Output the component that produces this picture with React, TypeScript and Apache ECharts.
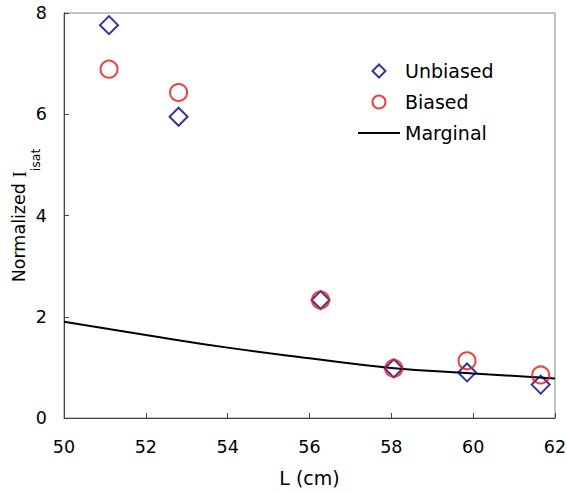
import React, { useEffect, useRef } from "react";
import * as echarts from "echarts";

const unbiasedL = [51.1, 52.8, 56.27, 58.06, 59.85, 61.65];
const unbiasedI = [7.76, 5.95, 2.33, 0.98, 0.9, 0.66];
const biasedL = [51.1, 52.8, 56.27, 58.06, 59.85, 61.65];
const biasedI = [6.89, 6.43, 2.33, 0.98, 1.13, 0.85];
const marginalL = [50, 52, 54, 56, 58, 60, 62];
const marginalI = [1.9, 1.64, 1.39, 1.18, 0.99, 0.88, 0.78];

const FONT = "DejaVu Sans";

export default function App() {
  const ref = useRef<HTMLDivElement>(null);
  useEffect(() => {
    if (!ref.current) return;
    const chart = echarts.init(ref.current, undefined, { renderer: "svg" });
    chart.setOption({
      animation: false,
      backgroundColor: "#fff",
      grid: {
        left: 64,
        top: 13,
        right: 12,
        bottom: 75,
        outerBoundsMode: "none",
        containLabel: false,
        show: true,
        borderColor: "#888",
        borderWidth: 1,
        backgroundColor: "transparent",
      },
      legend: {
        orient: "vertical",
        left: 353,
        top: 56,
        itemWidth: 42,
        itemHeight: 13,
        itemGap: 11,
        symbolKeepAspect: true,
        textStyle: { fontFamily: FONT, fontSize: 19, color: "#000", lineHeight: 20 },
        data: [
          { name: "Unbiased", icon: "path://M6,0L12,6L6,12L0,6Z" },
          { name: "Biased", icon: "circle" },
          { name: "Marginal", icon: "path://M0,0H42V2H0Z" },
        ],
      },
      xAxis: {
        type: "value",
        min: 50,
        max: 62,
        interval: 2,
        name: "L (cm)",
        nameLocation: "middle",
        nameGap: 50,
        nameMoveOverlap: false,
        nameTextStyle: { fontFamily: FONT, fontSize: 19, color: "#000" },
        axisLine: { show: true, lineStyle: { color: "#444", width: 1 } },
        axisTick: { show: true, inside: true, length: 5, lineStyle: { color: "#444" } },
        axisLabel: { fontFamily: FONT, fontSize: 17.5, color: "#000", margin: 20 },
        splitLine: { show: false },
      },
      yAxis: {
        type: "value",
        min: 0,
        max: 8,
        interval: 2,
        name: "{a|Normalized }{i|I}{b|isat}",
        nameLocation: "middle",
        nameRotate: 90,
        nameGap: 22,
        nameMoveOverlap: false,
        nameTextStyle: {
          fontFamily: FONT,
          color: "#000",
          rich: {
            a: { fontFamily: FONT, fontSize: 17.5, lineHeight: 18, verticalAlign: "top", color: "#000" },
            i: { fontFamily: "Liberation Serif", fontSize: 19, lineHeight: 18, verticalAlign: "top", color: "#000" },
            b: { fontFamily: FONT, fontSize: 12.5, lineHeight: 32, verticalAlign: "bottom", color: "#000" },
          },
        },
        axisLine: { show: true, lineStyle: { color: "#444", width: 1 } },
        axisTick: { show: true, inside: true, length: 5, lineStyle: { color: "#444" } },
        axisLabel: { fontFamily: FONT, fontSize: 17.5, color: "#000", margin: 17 },
        splitLine: { show: false },
      },
      series: [
        {
          name: "Marginal",
          type: "line",
          data: marginalL.map((l, i) => [l, marginalI[i]]),
          smooth: true,
          showSymbol: false,
          symbol: "none",
          lineStyle: { color: "#000", width: 2 },
          itemStyle: { color: "#000" },
          z: 1,
        },
        {
          name: "Unbiased",
          type: "scatter",
          data: unbiasedL.map((l, i) => [l, unbiasedI[i]]),
          symbol: "diamond",
          symbolSize: 18,
          symbolKeepAspect: true,
          itemStyle: { color: "transparent", borderColor: "#00008f", borderWidth: 2 },
          z: 2,
        },
        {
          name: "Biased",
          type: "scatter",
          data: biasedL.map((l, i) => [l, biasedI[i]]),
          symbol: "circle",
          symbolSize: 17,
          symbolKeepAspect: true,
          itemStyle: { color: "transparent", borderColor: "#ee1111", borderWidth: 2 },
          z: 3,
        },
      ],
    });
    return () => chart.dispose();
  }, []);
  return (
    <div
      ref={ref}
      style={{ position: "fixed", left: 0, top: 0, width: 567, height: 493 }}
    />
  );
}
